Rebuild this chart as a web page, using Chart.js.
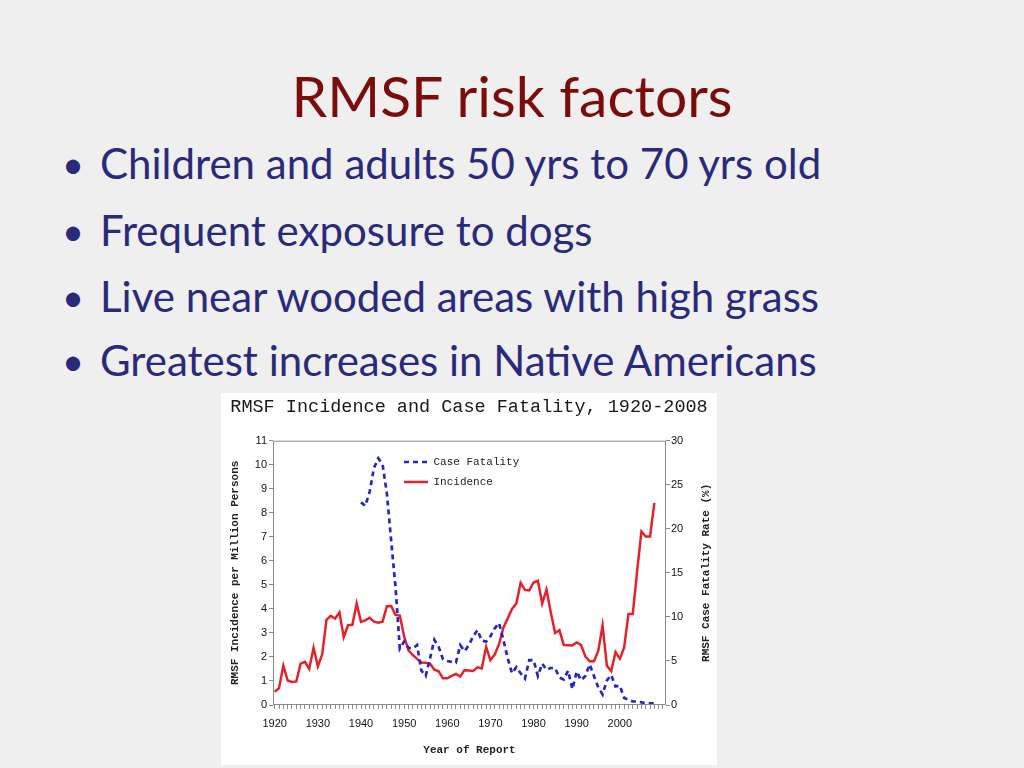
<!DOCTYPE html>
<html>
<head>
<meta charset="utf-8">
<script src="https://cdn.jsdelivr.net/npm/chart.js@4.4.1/dist/chart.umd.min.js"></script>
<style>
  body { margin: 0; background: #efefef; width: 1024px; height: 768px; overflow: hidden; position: relative; font-family: Lato, "Open Sans", sans-serif; }
  .title { position: absolute; left: 0; width: 1024px; top: 67px; text-align: center; font-size: 57px; line-height: 1; color: #7b0c0c; }
  .bullet { position: absolute; left: 100px; font-size: 42px; line-height: 1; color: #2b2a7a; white-space: nowrap; }
  .dot { position: absolute; left: -38px; font-size: 38px; top: 2px; }
  #chartBox { position: absolute; left: 221px; top: 393px; width: 496px; height: 372px; background: #fff; }
</style>
</head>
<body>
<div class="title">RMSF risk factors</div>
<div class="bullet" style="top:142px"><span class="dot">•</span>Children and adults 50 yrs to 70 yrs old</div>
<div class="bullet" style="top:209px"><span class="dot">•</span>Frequent exposure to dogs</div>
<div class="bullet" style="top:275px"><span class="dot">•</span>Live near wooded areas with high grass</div>
<div class="bullet" style="top:339px"><span class="dot">•</span>Greatest increases in Native Americans</div>
<div id="chartBox"><canvas id="rmsfChart" width="496" height="372"></canvas></div>

<script>
const years = [
    1920, 1921, 1922, 1923, 1924, 1925, 1926, 1927, 1928, 1929,
    1930, 1931, 1932, 1933, 1934, 1935, 1936, 1937, 1938, 1939,
    1940, 1941, 1942, 1943, 1944, 1945, 1946, 1947, 1948, 1949,
    1950, 1951, 1952, 1953, 1954, 1955, 1956, 1957, 1958, 1959,
    1960, 1961, 1962, 1963, 1964, 1965, 1966, 1967, 1968, 1969,
    1970, 1971, 1972, 1973, 1974, 1975, 1976, 1977, 1978, 1979,
    1980, 1981, 1982, 1983, 1984, 1985, 1986, 1987, 1988, 1989,
    1990, 1991, 1992, 1993, 1994, 1995, 1996, 1997, 1998, 1999,
    2000, 2001, 2002, 2003, 2004, 2005, 2006, 2007, 2008
];

// per million persons
const incidence = [
    0.55, 0.7, 1.64, 1.02, 0.96, 0.98, 1.72, 1.8, 1.5, 2.38,
    1.61, 2.1, 3.54, 3.71, 3.6, 3.85, 2.82, 3.32, 3.34, 4.22,
    3.46, 3.52, 3.63, 3.47, 3.42, 3.47, 4.11, 4.12, 3.75, 3.72,
    2.85, 2.28, 2.08, 1.92, 1.77, 1.76, 1.72, 1.47, 1.4, 1.11,
    1.11, 1.21, 1.29, 1.18, 1.45, 1.44, 1.42, 1.57, 1.52, 2.42,
    1.87, 2.1, 2.53, 3.22, 3.6, 4.0, 4.22, 5.08, 4.79, 4.77,
    5.1, 5.17, 4.22, 4.8, 3.85, 3.0, 3.11, 2.5, 2.49, 2.48,
    2.6, 2.5, 2.02, 1.82, 1.82, 2.25, 3.31, 1.63, 1.41, 2.2,
    1.93, 2.4, 3.79, 3.79, 5.55, 7.22, 7.01, 7.01, 8.41
];

// case fatality rate (%), reported from 1940
const fatality = [
    null, null, null, null, null, null, null, null, null, null,
    null, null, null, null, null, null, null, null, null, null,
    23.0, 22.6, 24.2, 26.9, 28.0, 27.3, 24.0, 18.6, 13.4, 6.4,
    7.2, 6.5, 6.4, 6.8, 3.9, 3.3, 5.3, 7.4, 6.6, 5.2,
    5.0, 4.9, 4.8, 6.8, 6.1, 6.8, 7.8, 8.5, 7.3, 7.2,
    7.8, 8.7, 9.3, 7.4, 5.3, 3.6, 4.3, 3.6, 3.0, 5.1,
    5.1, 3.3, 4.7, 4.0, 4.2, 4.2, 3.1, 2.9, 3.9, 1.8,
    3.8, 2.8, 3.3, 4.6, 3.3, 2.0, 1.2, 2.8, 3.4, 2.1,
    2.2, 0.8, 0.6, 0.4, 0.4, 0.3, 0.2, 0.2, 0.2
];

const chartTitle = 'RMSF Incidence and Case Fatality, 1920-2008';
const leftAxisTitle = 'RMSF Incidence per Million Persons';
const rightAxisTitle = 'RMSF Case Fatality Rate (%)';
const xAxisTitle = 'Year of Report';

document.addEventListener("DOMContentLoaded", function () {
    initRmsfChart();
});

function toPoints(values) {
    return years.map((yr, i) => ({ x: yr, y: values[i] }));
}

function initRmsfChart() {
    const mono = '"Liberation Mono", "DejaVu Sans Mono", monospace';
    const sans = '"Liberation Sans", Arial, sans-serif';
    const frameColor = '#8a8a8a';

    // frame around the plot area
    const framePlugin = {
        id: 'frame',
        afterDraw(chart) {
            const a = chart.chartArea;
            const ctx = chart.ctx;
            ctx.save();
            ctx.strokeStyle = frameColor;
            ctx.lineWidth = 1;
            ctx.strokeRect(a.left + 0.5, a.top + 0.5, a.width - 1, a.height - 1);
            ctx.restore();
        }
    };

    // right axis title reads bottom-to-top like the left one
    const rightTitlePlugin = {
        id: 'rightTitle',
        afterDraw(chart) {
            const s = chart.scales.y1;
            const a = chart.chartArea;
            const ctx = chart.ctx;
            ctx.save();
            ctx.translate(s.right - 11, (a.top + a.bottom) / 2);
            ctx.rotate(-Math.PI / 2);
            ctx.font = 'bold 11px ' + mono;
            ctx.fillStyle = '#222';
            ctx.textAlign = 'center';
            ctx.textBaseline = 'middle';
            ctx.fillText(rightAxisTitle, 0, 0);
            ctx.restore();
        }
    };

    // put the legend inside the plot, near the top
    const legendPlacer = {
        id: 'legendPlacer',
        afterLayout(chart) {
            chart.legend.left = 174;
            chart.legend.top = 54.5;
        }
    };

    const ctx = document.getElementById('rmsfChart').getContext('2d');
    new Chart(ctx, {
        type: 'line',
        data: {
            datasets: [{
                label: 'Case Fatality',
                data: toPoints(fatality),
                yAxisID: 'y1',
                borderColor: '#2626c4',
                backgroundColor: '#2626c4',
                borderWidth: 2.7,
                borderDash: [5, 4],
                pointRadius: 0,
                pointStyle: 'line',
                tension: 0,
                fill: false
            }, {
                label: 'Incidence',
                data: toPoints(incidence),
                yAxisID: 'y',
                borderColor: '#e4222b',
                backgroundColor: '#e4222b',
                borderWidth: 2.5,
                pointRadius: 0,
                pointStyle: 'line',
                tension: 0,
                fill: false
            }]
        },
        options: {
            responsive: false,
            animation: false,
            layout: { padding: 0 },
            plugins: {
                title: {
                    display: true,
                    text: chartTitle,
                    color: '#1a1a1a',
                    font: { family: mono, size: 18.5, weight: 'normal' },
                    padding: { top: 3, bottom: 22.5 }
                },
                legend: {
                    position: 'chartArea',
                    align: 'start',
                    labels: {
                        usePointStyle: true,
                        pointStyleWidth: 24,
                        padding: 9,
                        color: '#222',
                        font: { family: mono, size: 11 },
                        generateLabels(chart) {
                            const items = Chart.defaults.plugins.legend.labels.generateLabels(chart);
                            items.forEach(it => {
                                const ds = chart.data.datasets[it.datasetIndex];
                                it.lineDash = ds.borderDash || [];
                                it.lineWidth = ds.borderWidth;
                                it.strokeStyle = ds.borderColor;
                            });
                            return items;
                        }
                    }
                },
                tooltip: { enabled: false }
            },
            scales: {
                x: {
                    type: 'linear',
                    min: 1919.6,
                    max: 2010.7,
                    afterBuildTicks(scale) {
                        scale.ticks = scale.ticks.filter(t => Number.isInteger(t.value));
                    },
                    afterFit(scale) { scale.height = 60; },
                    border: { display: false },
                    grid: { drawOnChartArea: false, drawTicks: true, tickLength: 4, color: frameColor },
                    ticks: {
                        stepSize: 1,
                        includeBounds: false,
                        autoSkip: false,
                        maxRotation: 0,
                        padding: 8,
                        color: '#111',
                        font: { family: sans, size: 11 },
                        callback: v => (v % 10 === 0 && v <= 2000) ? String(v) : ''
                    },
                    title: {
                        display: true,
                        text: xAxisTitle,
                        color: '#222',
                        font: { family: mono, size: 11, weight: 'bold' },
                        padding: { top: 0, bottom: 8 }
                    }
                },
                y: {
                    position: 'left',
                    min: 0,
                    max: 11,
                    afterFit(scale) { scale.width = 52; },
                    border: { display: false },
                    grid: { drawOnChartArea: false, drawTicks: true, tickLength: 4, color: frameColor },
                    ticks: {
                        stepSize: 1,
                        padding: 2,
                        color: '#111',
                        font: { family: sans, size: 11 }
                    },
                    title: {
                        display: true,
                        text: leftAxisTitle,
                        color: '#222',
                        font: { family: mono, size: 11, weight: 'bold' },
                        padding: { top: 8, bottom: 0 }
                    }
                },
                y1: {
                    position: 'right',
                    min: 0,
                    max: 30,
                    afterFit(scale) { scale.width = 51; },
                    border: { display: false },
                    grid: { drawOnChartArea: false, drawTicks: true, tickLength: 4, color: frameColor },
                    ticks: {
                        stepSize: 5,
                        padding: 1,
                        color: '#111',
                        font: { family: sans, size: 11 }
                    }
                }
            }
        },
        plugins: [framePlugin, rightTitlePlugin, legendPlacer]
    });
}
</script>
</body>
</html>
